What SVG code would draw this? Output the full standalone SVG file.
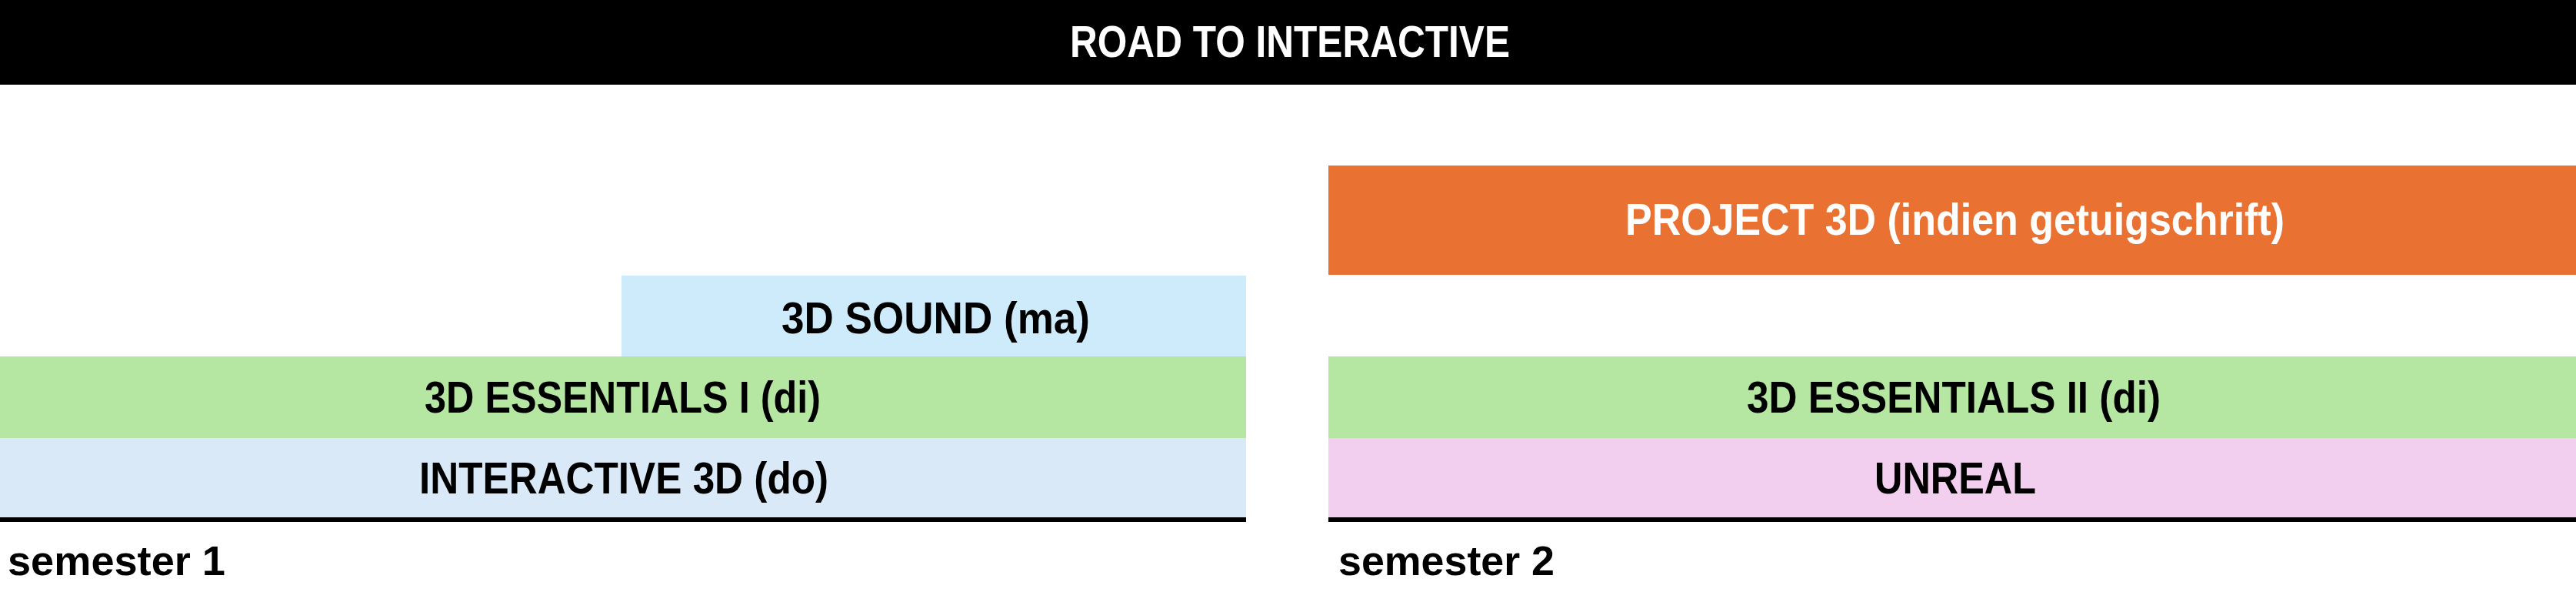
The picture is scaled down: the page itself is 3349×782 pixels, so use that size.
<svg xmlns="http://www.w3.org/2000/svg" width="3349" height="782" viewBox="0 0 3349 782">
<style>
.lbl{font-family:"Liberation Sans",Arial,sans-serif;font-weight:bold;font-size:57px;fill:#000;text-anchor:middle}
.wt{fill:#fff}
.sem{font-family:"Liberation Sans",Arial,sans-serif;font-weight:bold;font-size:54px;fill:#000}
</style>
<rect x="0" y="0" width="3349" height="782" fill="#fff"/>
<g id="title">
<rect x="0" y="0" width="3349" height="110" fill="#000"/>
<text class="lbl wt" x="1677" y="74" textLength="572" lengthAdjust="spacingAndGlyphs">ROAD TO INTERACTIVE</text>
</g>
<g id="sound">
<rect x="808" y="358" width="812" height="105" fill="#CDEBFA"/>
<text class="lbl" x="1216.5" y="433" textLength="401" lengthAdjust="spacingAndGlyphs">3D SOUND (ma)</text>
</g>
<g id="essentials1">
<rect x="0" y="463" width="1620" height="106" fill="#B5E6A2"/>
<text class="lbl" x="809.5" y="536" textLength="515" lengthAdjust="spacingAndGlyphs">3D ESSENTIALS I (di)</text>
</g>
<g id="interactive">
<rect x="0" y="569" width="1620" height="103" fill="#DAE9F7"/>
<text class="lbl" x="811" y="641" textLength="532" lengthAdjust="spacingAndGlyphs">INTERACTIVE 3D (do)</text>
</g>
<g id="project">
<rect x="1727" y="215" width="1622" height="142" fill="#E97132"/>
<text class="lbl wt" x="2541.5" y="305" textLength="857" lengthAdjust="spacingAndGlyphs">PROJECT 3D (indien getuigschrift)</text>
</g>
<g id="essentials2">
<rect x="1727" y="463" width="1622" height="106" fill="#B5E6A2"/>
<text class="lbl" x="2540" y="536" textLength="538" lengthAdjust="spacingAndGlyphs">3D ESSENTIALS II (di)</text>
</g>
<g id="unreal">
<rect x="1727" y="569" width="1622" height="103" fill="#F2CEEF"/>
<text class="lbl" x="2542" y="641" textLength="210" lengthAdjust="spacingAndGlyphs">UNREAL</text>
</g>
<g id="connectors">
<rect x="0" y="672" width="1620" height="6" fill="#000"/>
<rect x="1727" y="672" width="1622" height="6" fill="#000"/>
</g>
<g id="semester1">
<text class="sem" x="10" y="747" textLength="283" lengthAdjust="spacingAndGlyphs">semester 1</text>
</g>
<g id="semester2">
<text class="sem" x="1740" y="747" textLength="281" lengthAdjust="spacingAndGlyphs">semester 2</text>
</g>
</svg>
